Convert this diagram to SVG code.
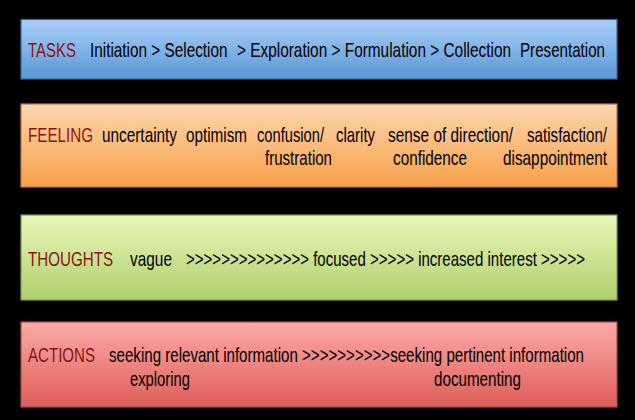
<svg xmlns="http://www.w3.org/2000/svg" width="635" height="420" viewBox="0 0 635 420">
<defs>
<linearGradient id="gBlue" x1="0" y1="0" x2="0" y2="1"><stop offset="0" stop-color="#aad0f8"/><stop offset="1" stop-color="#5896d6"/></linearGradient>
<linearGradient id="gOrange" x1="0" y1="0" x2="0" y2="1"><stop offset="0" stop-color="#fdd6b0"/><stop offset="1" stop-color="#f7a048"/></linearGradient>
<linearGradient id="gGreen" x1="0" y1="0" x2="0" y2="1"><stop offset="0" stop-color="#e8f7ba"/><stop offset="1" stop-color="#b0cf6c"/></linearGradient>
<linearGradient id="gRed" x1="0" y1="0" x2="0" y2="1"><stop offset="0" stop-color="#fbaaa8"/><stop offset="1" stop-color="#df5e58"/></linearGradient>
</defs>
<style>
text{font-family:"Liberation Sans",Arial,sans-serif;font-size:20px;fill:#000;}
text.lab{fill:#8a1414;}
rect.band{stroke-width:1.2;}
</style>
<rect x="0" y="0" width="635" height="420" fill="#000"/>
<g id="tasks">
<rect class="band" x="21" y="19.5" width="596" height="59.5" fill="url(#gBlue)" stroke="#3d6a9c"/>
<text class="lab" transform="translate(28 57) scale(0.78 1)" textLength="61.5" lengthAdjust="spacingAndGlyphs">TASKS</text>
<text transform="translate(90 57) scale(0.78 1)" textLength="176.3" lengthAdjust="spacingAndGlyphs">Initiation &gt; Selection</text>
<text transform="translate(237 57) scale(0.78 1)" textLength="351.3" lengthAdjust="spacingAndGlyphs">&gt; Exploration &gt; Formulation &gt; Collection</text>
<text transform="translate(520 57) scale(0.78 1)" textLength="109" lengthAdjust="spacingAndGlyphs">Presentation</text>
</g>
<g id="feeling">
<rect class="band" x="21" y="104" width="596" height="83" fill="url(#gOrange)" stroke="#b97a44"/>
<text class="lab" transform="translate(28 141.5) scale(0.78 1)" textLength="83.3" lengthAdjust="spacingAndGlyphs">FEELING</text>
<text transform="translate(102 141.5) scale(0.78 1)" textLength="96.2" lengthAdjust="spacingAndGlyphs">uncertainty</text>
<text transform="translate(186 141.5) scale(0.78 1)" textLength="78.2" lengthAdjust="spacingAndGlyphs">optimism</text>
<text transform="translate(257 141.5) scale(0.78 1)" textLength="85.9" lengthAdjust="spacingAndGlyphs">confusion/</text>
<text transform="translate(336 141.5) scale(0.78 1)" textLength="50" lengthAdjust="spacingAndGlyphs">clarity</text>
<text transform="translate(388 141.5) scale(0.78 1)" textLength="160.3" lengthAdjust="spacingAndGlyphs">sense of direction/</text>
<text transform="translate(527 141.5) scale(0.78 1)" textLength="102.6" lengthAdjust="spacingAndGlyphs">satisfaction/</text>
<text transform="translate(265 165) scale(0.78 1)" textLength="85.9" lengthAdjust="spacingAndGlyphs">frustration</text>
<text transform="translate(393 165) scale(0.78 1)" textLength="94.9" lengthAdjust="spacingAndGlyphs">confidence</text>
<text transform="translate(503 165) scale(0.78 1)" textLength="133.3" lengthAdjust="spacingAndGlyphs">disappointment</text>
</g>
<g id="thoughts">
<rect class="band" x="21" y="215" width="596" height="85" fill="url(#gGreen)" stroke="#7f9a52"/>
<text class="lab" transform="translate(28 266) scale(0.78 1)" textLength="109" lengthAdjust="spacingAndGlyphs">THOUGHTS</text>
<text transform="translate(130 266) scale(0.78 1)" textLength="53.8" lengthAdjust="spacingAndGlyphs">vague</text>
<text transform="translate(186 266) scale(0.78 1)" textLength="511.5" lengthAdjust="spacingAndGlyphs">&gt;&gt;&gt;&gt;&gt;&gt;&gt;&gt;&gt;&gt;&gt;&gt;&gt;&gt; focused &gt;&gt;&gt;&gt;&gt; increased interest &gt;&gt;&gt;&gt;&gt;</text>
</g>
<g id="actions">
<rect class="band" x="21" y="322" width="596" height="85" fill="url(#gRed)" stroke="#a84a48"/>
<text class="lab" transform="translate(28 362) scale(0.78 1)" textLength="85.9" lengthAdjust="spacingAndGlyphs">ACTIONS</text>
<text transform="translate(109 362) scale(0.78 1)" textLength="609" lengthAdjust="spacingAndGlyphs">seeking relevant information &gt;&gt;&gt;&gt;&gt;&gt;&gt;&gt;&gt;&gt;seeking pertinent information</text>
<text transform="translate(130 386) scale(0.78 1)" textLength="76.9" lengthAdjust="spacingAndGlyphs">exploring</text>
<text transform="translate(434 386) scale(0.78 1)" textLength="111.5" lengthAdjust="spacingAndGlyphs">documenting</text>
</g>
<g id="connectors"/>
</svg>
